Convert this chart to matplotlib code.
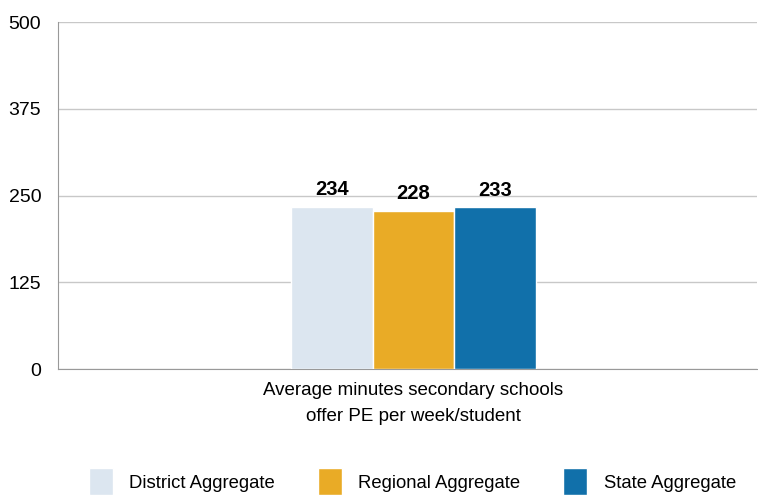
import matplotlib.pyplot as plt

plt.rcParams['font.family'] = ['Liberation Sans', 'DejaVu Sans']

series = ['District Aggregate', 'Regional Aggregate', 'State Aggregate']
values = [234, 228, 233]
colors = ['#dce6f0', '#e9ab26', '#1170aa']
category = 'Average minutes secondary schools\noffer PE per week/student'
yticks = [0, 125, 250, 375, 500]

fig = plt.figure(figsize=(7.58, 4.95), dpi=100)
ax = fig.add_axes([0.0765, 0.2545, 0.922, 0.701])

xs = [-1, 0, 1]
bars = ax.bar(xs, values, width=1.0, color=colors, edgecolor='white', linewidth=1, zorder=3)
for x, v in zip(xs, values):
    ax.text(x, v + 11, str(v), ha='center', va='bottom', fontsize=14.5, fontweight='bold')

ax.set_ylim(0, 500)
ax.set_xlim(-4.35, 4.2)
ax.set_yticks(yticks)
ax.set_yticklabels([str(t) for t in yticks], fontsize=14)
ax.yaxis.grid(True, color='#c8c8c8', linewidth=1, zorder=0)
ax.tick_params(axis='y', length=0, pad=12)
ax.set_xticks([0])
ax.set_xticklabels([category], fontsize=13.5, linespacing=1.7)
ax.tick_params(axis='x', length=0, pad=9)

for s in ['top', 'right']:
    ax.spines[s].set_visible(False)
ax.spines['left'].set_color('#999999')
ax.spines['bottom'].set_color('#999999')

fig.legend(bars, series, loc='center', bbox_to_anchor=(0.544, 0.027), ncol=3,
           frameon=False, fontsize=13.3, handlelength=1.3, handleheight=1.9,
           columnspacing=2.3, handletextpad=0.9, borderaxespad=0, borderpad=0)

fig.savefig('out.png', dpi=100)
